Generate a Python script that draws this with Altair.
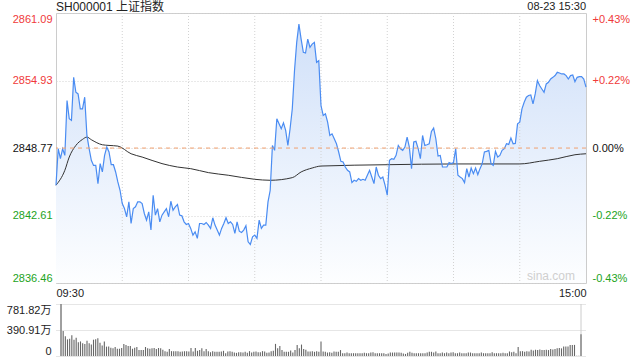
import altair as alt
import pandas as pd

# ---------------- data ----------------
price = [
    2845.38, 2848.71, 2847.80, 2848.71, 2848.10, 2853.10, 2851.44, 2851.29, 2855.22, 2853.86,
    2853.71, 2852.35, 2852.35, 2853.41, 2849.92, 2848.71, 2847.65, 2847.19, 2847.19, 2845.53,
    2847.35, 2846.59, 2848.10, 2848.86, 2848.41, 2847.25, 2847.25, 2846.59, 2845.68, 2844.92,
    2843.71, 2843.25, 2842.50, 2843.86, 2841.89, 2843.25, 2843.41, 2843.86, 2843.86, 2843.71,
    2842.80, 2842.19, 2842.95, 2841.29, 2844.47, 2842.65, 2843.25, 2842.04, 2842.65, 2842.95,
    2843.25, 2842.50, 2843.92, 2843.10, 2843.41, 2843.62, 2842.65, 2842.59, 2842.04, 2841.80,
    2841.89, 2841.44, 2840.83, 2841.13, 2840.53, 2841.89, 2841.89, 2841.80, 2841.98, 2841.74,
    2841.44, 2842.41, 2841.74, 2841.29, 2840.83, 2841.44, 2841.89, 2842.41, 2841.89, 2842.04,
    2841.80, 2840.98, 2842.04, 2841.19, 2841.07, 2841.29, 2841.68, 2840.22, 2839.98, 2840.68,
    2840.83, 2840.53, 2842.19, 2841.44, 2841.74, 2841.74, 2843.86, 2844.92, 2849.01, 2848.56,
    2851.44, 2850.98, 2850.53, 2851.07, 2850.38, 2849.01, 2850.53, 2852.35, 2855.83, 2858.41,
    2860.07, 2858.71, 2857.50, 2857.44, 2858.71, 2857.95, 2858.25, 2858.41, 2856.59, 2856.74,
    2852.65, 2851.74, 2851.89, 2851.13, 2849.92, 2850.07, 2849.62, 2849.16, 2848.41, 2847.56,
    2847.50, 2847.04, 2846.74, 2846.59, 2845.62, 2845.83, 2845.74, 2845.98, 2845.83, 2845.92,
    2845.83, 2846.29, 2846.74, 2846.13, 2845.53, 2847.04, 2846.29, 2845.98, 2846.13, 2845.38,
    2844.47, 2847.65, 2847.80, 2847.74, 2848.10, 2849.01, 2848.71, 2848.56, 2848.86, 2849.77,
    2848.86, 2846.89, 2849.32, 2849.38, 2848.71, 2847.80, 2849.92, 2849.01, 2849.07, 2849.16,
    2850.29, 2850.59, 2849.62, 2848.04, 2848.10, 2847.04, 2847.04, 2847.04, 2847.44, 2847.35,
    2847.44, 2848.71, 2846.29, 2846.13, 2845.98, 2845.62, 2846.89, 2846.13, 2846.95, 2846.44,
    2846.95, 2846.35, 2846.89, 2847.35, 2848.41, 2848.47, 2848.56, 2847.35, 2847.19, 2848.47,
    2847.95, 2848.10, 2848.56, 2848.71, 2849.16, 2849.10, 2849.68, 2849.16, 2849.19, 2850.98,
    2851.13, 2852.35, 2852.95, 2853.41, 2853.56, 2853.62, 2852.80, 2853.71, 2854.92, 2854.47,
    2854.16, 2853.86, 2854.62, 2854.77, 2855.07, 2855.22, 2855.38, 2855.68, 2855.62, 2855.53,
    2855.53, 2855.38, 2855.07, 2855.38, 2855.44, 2854.83, 2855.22, 2855.29, 2855.29, 2855.07,
    2854.32,
]

avg_idx = [0, 4, 6, 9, 12, 14, 16, 21, 24, 28, 34, 39, 48, 55, 61, 69, 78, 90, 97, 107,
           111, 116, 120, 150, 181, 210, 219, 227, 235, 240]
avg_val = [2845.38, 2846.74, 2847.95, 2849.01, 2849.56, 2849.77, 2849.53, 2849.07, 2849.01, 2848.95,
           2848.25, 2847.95, 2847.35, 2847.04, 2846.89, 2846.53, 2846.29, 2845.92, 2845.83, 2846.07,
           2846.59, 2846.95, 2847.13, 2847.25, 2847.32, 2847.32, 2847.56, 2847.80, 2848.16, 2848.25]

# volume in 万
volume = [
    781.82, 375, 297, 250, 260, 313, 245, 276, 208, 219,
    193, 182, 229, 193, 172, 245, 250, 266, 198, 156,
    219, 141, 141, 125, 115, 135, 109, 109, 120, 182,
    167, 151, 151, 109, 125, 135, 89, 89, 89, 135,
    115, 109, 115, 120, 104, 120, 115, 94, 73, 63,
    104, 73, 73, 73, 73, 63, 68, 73, 73, 68,
    120, 68, 120, 78, 89, 115, 73, 104, 73, 57,
    73, 63, 63, 63, 68, 78, 42, 68, 73, 63,
    52, 47, 57, 57, 52, 63, 47, 73, 52, 63,
    68, 57, 57, 73, 68, 47, 52, 73, 78, 182,
    115, 151, 89, 63, 63, 63, 83, 52, 89, 167,
    115, 172, 104, 94, 68, 68, 73, 63, 73, 63,
    219, 68, 63, 52, 57, 47, 68, 63, 63, 89,
    42, 42, 52, 42, 42, 42, 42, 42, 42, 42,
    47, 42, 42, 52, 57, 42, 42, 42, 42, 42,
    31, 36, 52, 52, 52, 52, 52, 47, 36, 31,
    47, 63, 47, 42, 42, 42, 42, 42, 42, 52,
    63, 63, 52, 68, 42, 42, 52, 42, 52, 42,
    52, 57, 42, 42, 52, 42, 42, 42, 52, 52,
    42, 42, 42, 42, 52, 42, 42, 42, 42, 57,
    42, 42, 42, 42, 47, 42, 42, 68, 57, 63,
    42, 135, 73, 73, 63, 73, 68, 94, 83, 94,
    89, 99, 89, 89, 94, 89, 104, 99, 104, 115,
    120, 115, 141, 141, 141, 167, 167, 167, 3, 3,
    328,
]

prev_close = 2848.77
y_ticks = [2836.46, 2842.61, 2848.77, 2854.93, 2861.09]
vol_ticks = [0, 390.91, 781.82]
grid_minutes = [30, 60, 90, 120, 150, 180, 210]
time_labels = ["09:30", "15:00"]
title_text = "SH000001 上证指数"
stamp_text = "08-23 15:30"
watermark = "sina.com"

# ---------------- style ----------------
FONT = "Liberation Sans, Arial, Noto Sans CJK SC"
RED = "#f03a3a"
GREEN = "#22a322"
W, H, VH = 530, 270, 52
N = len(price) - 1

df = pd.DataFrame({"i": list(range(len(price))), "price": price, "vol": volume})
avg_df = pd.DataFrame({"i": avg_idx, "avg": avg_val})
grid_df = pd.DataFrame({"i": grid_minutes})
pc_df = pd.DataFrame({"p": [prev_close]})

x_scale = alt.Scale(domain=[0, N], nice=False, zero=False)
y_scale = alt.Scale(domain=[y_ticks[0], y_ticks[-1]], nice=False, zero=False)

label_color = {
    "condition": [
        {"test": f"datum.value > {prev_close + 0.005}", "value": RED},
        {"test": f"datum.value < {prev_close - 0.005}", "value": GREEN},
    ],
    "value": "#111",
}

left_axis = alt.Axis(
    values=y_ticks, format=".2f", labelFlush=True, domain=False, ticks=False,
    grid=True, gridColor="#d2d2d2", gridDash=[1, 2], labelPadding=4,
    labelColor=label_color, title=None,
)
right_axis = alt.Axis(
    values=y_ticks, orient="right", labelFlush=True, domain=False, ticks=False,
    grid=False, labelPadding=6, labelColor=label_color, title=None,
    labelExpr=(
        f"(datum.value > {prev_close + 0.005} ? '+' : (datum.value < {prev_close - 0.005} ? '-' : ''))"
        f" + format(abs(datum.value / {prev_close} - 1) * 100, '.2f') + '%'"
    ),
)
x_axis = alt.Axis(
    values=[0, N], labelFlush=True, domain=False, ticks=False, grid=False,
    labelPadding=4, title=None, orient="bottom",
    labelExpr=f"datum.value == 0 ? '{time_labels[0]}' : '{time_labels[1]}'",
)

gradient = alt.Gradient(
    gradient="linear",
    stops=[alt.GradientStop(color="#fdfeff", offset=0),
           alt.GradientStop(color="#d0e0f9", offset=1)],
    x1=1, x2=1, y1=1, y2=0,
)

base = alt.Chart(df)
X = alt.X("i:Q", scale=x_scale, axis=x_axis)

area = base.mark_area(color=gradient).encode(
    x=X,
    y=alt.Y("price:Q", scale=y_scale, axis=left_axis),
    y2=alt.datum(y_ticks[0]),
)

vgrid = alt.Chart(grid_df).mark_rule(color="#d2d2d2", strokeDash=[1, 2], strokeWidth=1).encode(
    x=X,
)

pc_rule = alt.Chart(pc_df).mark_rule(color="#f0a070", strokeDash=[4, 4], strokeWidth=1).encode(
    y=alt.Y("p:Q", scale=y_scale, axis=right_axis),
)

avg_line = alt.Chart(avg_df).mark_line(color="#333333", strokeWidth=1, interpolate="monotone").encode(
    x=X,
    y=alt.Y("avg:Q", scale=y_scale, axis=None),
)

price_line = base.mark_line(color="#4a8cf2", strokeWidth=1.2).encode(
    x=X,
    y=alt.Y("price:Q", scale=y_scale, axis=None),
)

title_mark = alt.Chart(pd.DataFrame({"t": [title_text]})).mark_text(
    align="left", baseline="middle", fontSize=12, color="#222", font=FONT
).encode(text="t:N", x=alt.value(0), y=alt.value(-6))

stamp_mark = alt.Chart(pd.DataFrame({"t": [stamp_text]})).mark_text(
    align="right", baseline="middle", fontSize=11, color="#222", font=FONT
).encode(text="t:N", x=alt.value(W), y=alt.value(-6))

wm_mark = alt.Chart(pd.DataFrame({"t": [watermark]})).mark_text(
    align="right", baseline="middle", fontSize=12, color="#cfcfcf", font=FONT
).encode(text="t:N", x=alt.value(W - 11), y=alt.value(H - 7))

main = alt.layer(
    area, vgrid, avg_line, price_line, pc_rule, title_mark, stamp_mark, wm_mark
).resolve_axis(y="independent").properties(
    width=W, height=H, view=alt.ViewBackground(stroke="#cccccc", strokeWidth=1)
)

vol_axis = alt.Axis(
    values=vol_ticks, labelFlush=True, domain=False, ticks=False, grid=True,
    gridColor="#cccccc", gridDash=[1, 1], labelPadding=5, title=None, labelColor="#222",
    labelExpr="datum.value == 0 ? '0' : format(datum.value, '.2f') + '万'",
)

bars = base.mark_bar(size=1.1, color="#666666").encode(
    x=alt.X("i:Q", scale=x_scale, axis=None),
    y=alt.Y("vol:Q", scale=alt.Scale(domain=[0, vol_ticks[-1]], nice=False), axis=vol_axis),
)

edges = alt.Chart(pd.DataFrame({"e": [0, N]})).mark_rule(color="#cccccc", strokeWidth=1).encode(
    x=alt.X("e:Q", scale=x_scale, axis=None),
    y=alt.value(0), y2=alt.value(VH),
)

vol = alt.layer(edges, bars).properties(
    width=W, height=VH, view=alt.ViewBackground(stroke=None)
)

chart = alt.vconcat(main, vol, spacing=21, bounds="flush").properties(
    padding={"left": 6, "top": 0, "right": 0, "bottom": 0}
).configure_axis(
    labelFont=FONT, labelFontSize=11, labelColor="#222"
).configure_view(strokeWidth=1)

chart.save("out.html", embed_options={"renderer": "svg", "actions": False})
